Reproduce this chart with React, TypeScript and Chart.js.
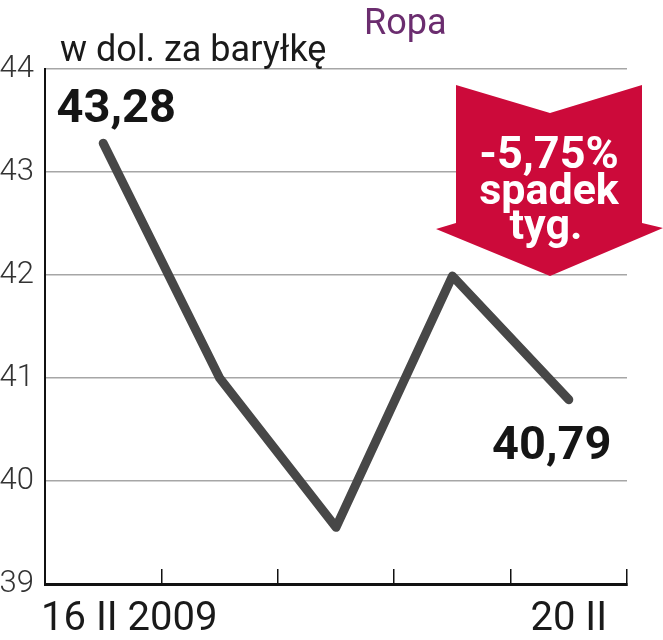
import React, { useEffect, useRef } from "react";
import { Chart, registerables } from "chart.js";

Chart.register(...registerables);

// ---- data ----
const categories = ["16 II 2009", "17 II", "18 II", "19 II", "20 II"];
const prices = [43.28, 41.0, 39.55, 41.99, 40.79];
const yMin = 39;
const yMax = 44;
const yStep = 1;
const shownXLabels = ["16 II 2009", "", "", "", "20 II"];
const titleText = "Ropa";
const unitText = "w dol. za baryłkę";
const badgeLines = ["-5,75%", "spadek", "tyg."];
const labelledPoints = [0, 4];

const fmt = (v: number) => v.toFixed(2).replace(".", ",");

const overlayPlugin = {
  id: "overlay",
  afterDraw(chart: any) {
    const ctx = chart.ctx as CanvasRenderingContext2D;
    const xs = chart.scales.x;
    const ys = chart.scales.y;
    const area = chart.chartArea;
    ctx.save();

    // titles
    ctx.textAlign = "left";
    ctx.textBaseline = "alphabetic";
    ctx.fillStyle = "#6b2d6f";
    ctx.font = "36px Roboto";
    ctx.fillText(titleText, 364, 34);
    ctx.fillStyle = "#1a1a1a";
    ctx.font = "36px Roboto";
    ctx.fillText(unitText, 60, 61);

    // x labels
    ctx.fillStyle = "#1a1a1a";
    ctx.font = "40px Roboto";
    shownXLabels.forEach((lab, i) => {
      if (!lab) return;
      if (i === 0) {
        ctx.textAlign = "left";
        ctx.fillText(lab, area.left - 4, 630);
      } else {
        ctx.textAlign = "center";
        ctx.fillText(lab, xs.getPixelForValue(i), 630);
      }
    });

    // value labels
    ctx.font = "bold 47px Roboto";
    ctx.fillStyle = "#151515";
    ctx.textAlign = "center";
    labelledPoints.forEach((i) => {
      const px = xs.getPixelForValue(i);
      const py = ys.getPixelForValue(prices[i]);
      if (i === 0) ctx.fillText(fmt(prices[i]), px + 13, py - 21);
      else ctx.fillText(fmt(prices[i]), px - 17, py + 59);
    });

    // red arrow badge
    ctx.fillStyle = "#cc0a3a";
    ctx.beginPath();
    ctx.moveTo(456, 85);
    ctx.lineTo(550, 113);
    ctx.lineTo(642, 85);
    ctx.lineTo(642, 223);
    ctx.lineTo(663, 228);
    ctx.lineTo(550, 276);
    ctx.lineTo(436, 229);
    ctx.lineTo(456, 223);
    ctx.closePath();
    ctx.fill();

    ctx.fillStyle = "#ffffff";
    ctx.textAlign = "center";
    ctx.font = "bold 45px Roboto";
    ctx.fillText(badgeLines[0], 549, 168);
    ctx.font = "bold 43px Roboto";
    ctx.fillText(badgeLines[1], 549, 204);
    ctx.fillText(badgeLines[2], 546, 239);

    ctx.restore();
  },
};

export default function App() {
  const ref = useRef<HTMLCanvasElement | null>(null);

  useEffect(() => {
    if (!ref.current) return;
    const chart = new Chart(ref.current, {
      type: "line",
      data: {
        labels: categories,
        datasets: [
          {
            data: prices,
            borderColor: "#474747",
            borderWidth: 9,
            pointRadius: 0,
            borderCapStyle: "round",
            borderJoinStyle: "round",
            tension: 0,
            clip: false as any,
          },
        ],
      },
      options: {
        animation: false,
        responsive: true,
        maintainAspectRatio: false,
        layout: { padding: { top: 69, right: 36, left: 0, bottom: 0 } },
        plugins: {
          legend: { display: false },
          tooltip: { enabled: false },
          title: { display: false },
        },
        scales: {
          x: {
            type: "category",
            offset: true,
            grid: {
              offset: true,
              display: true,
              drawOnChartArea: false,
              drawTicks: true,
              tickLength: -15,
              color: "#111",
              lineWidth: 1.5,
            },
            border: { display: true, color: "#111", width: 3 },
            ticks: { display: false },
            afterFit: (s: any) => {
              s.height = 56;
            },
          },
          y: {
            min: yMin,
            max: yMax,
            ticks: {
              stepSize: yStep,
              padding: 11,
              color: "#333",
              font: { family: "Roboto", size: 31, weight: "300" as any },
            },
            grid: { color: "#a6a6a6", lineWidth: 1.5, drawTicks: false },
            border: { display: true, color: "#111", width: 2 },
            afterFit: (s: any) => {
              s.width = 45;
            },
          },
        },
      },
      plugins: [overlayPlugin],
    });
    return () => chart.destroy();
  }, []);

  return (
    <div style={{ position: "absolute", left: 0, top: 0, width: 663, height: 640, background: "#fff" }}>
      <canvas ref={ref} />
    </div>
  );
}
